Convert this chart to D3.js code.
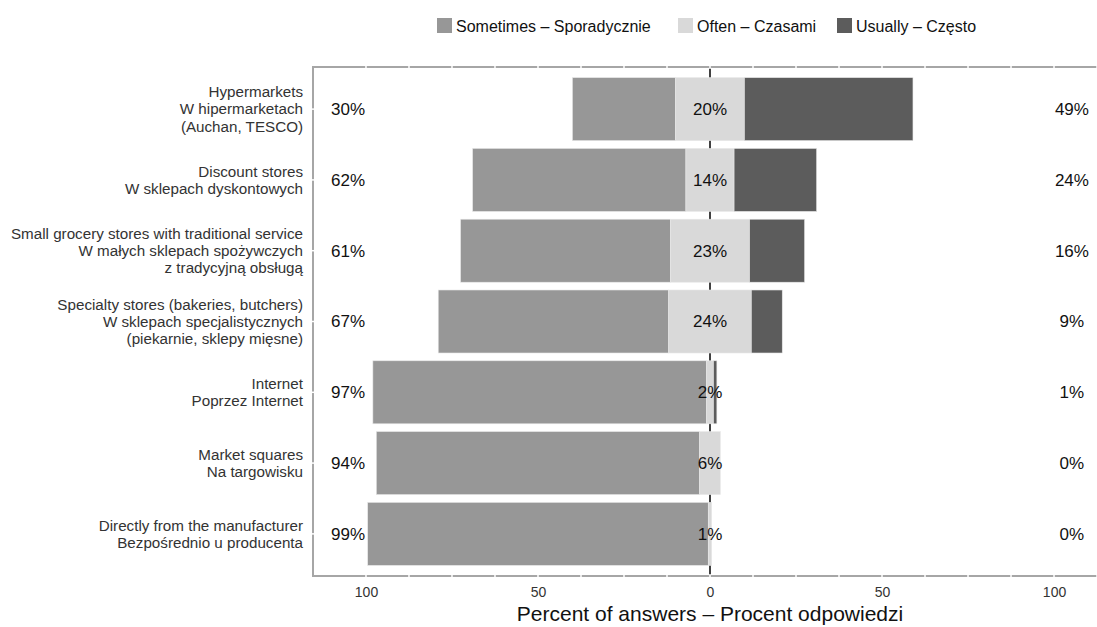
<!DOCTYPE html>
<html>
<head>
<meta charset="utf-8">
<script src="https://cdn.jsdelivr.net/npm/d3@7"></script>
<style>
  body { margin: 0; background: #fff; }
  svg { font-family: "Liberation Sans", Arial, sans-serif; }
</style>
</head>
<body>
<div class="canvas"></div>
<script>
// categories, each label split into lines
const categories = [
  ['Hypermarkets', 'W hipermarketach', '(Auchan, TESCO)'],
  ['Discount stores', 'W sklepach dyskontowych'],
  ['Small grocery stores with traditional service', 'W małych sklepach spożywczych', 'z tradycyjną obsługą'],
  ['Specialty stores (bakeries, butchers)', 'W sklepach specjalistycznych', '(piekarnie, sklepy mięsne)'],
  ['Internet', 'Poprzez Internet'],
  ['Market squares', 'Na targowisku'],
  ['Directly from the manufacturer', 'Bezpośrednio u producenta']
]
const sometimes = [30, 62, 61, 67, 97, 94, 99]
const often = [20, 14, 23, 24, 2, 6, 1]
const usually = [49, 24, 16, 9, 1, 0, 0]
const seriesNames = ['Sometimes – Sporadycznie', 'Often – Czasami', 'Usually – Często']
const xTicks = [-100, -50, 0, 50, 100]
const colors = ['#979797', '#d9d9d9', '#5c5c5c']

const width = 1097
const height = 627
const margin = { top: 67, left: 313, bottom: 51 }

const svg = d3.select('.canvas')
  .append('svg')
  .attr('width', width)
  .attr('height', height)

// scales
const x = d3.scaleLinear().domain([-115.4, 115.4]).range([margin.left, margin.left + 794])
const y = d3.scaleBand()
  .domain(categories.map((d, i) => i))
  .range([margin.top, height - margin.bottom])
  .paddingInner(0.11)
  .paddingOuter(0.15)

const plotBottom = height - margin.bottom

// zero line (behind bars)
svg.append('line')
  .attr('x1', x(0)).attr('x2', x(0))
  .attr('y1', margin.top).attr('y2', plotBottom)
  .attr('stroke', '#111').attr('stroke-width', 1.6)

// build segments for each row, "often" is centred on zero
const rows = categories.map((c, i) => {
  const half = often[i] / 2
  return [
    { key: 0, i, x0: -half - sometimes[i], x1: -half },
    { key: 1, i, x0: -half, x1: half },
    { key: 2, i, x0: half, x1: half + usually[i] }
  ]
}).flat().filter(d => d.x1 > d.x0)

svg.append('g').selectAll('rect')
  .data(rows)
  .enter()
  .append('rect')
  .attr('x', d => x(d.x0))
  .attr('width', d => x(d.x1) - x(d.x0))
  .attr('y', d => y(d.i))
  .attr('height', y.bandwidth())
  .attr('fill', d => colors[d.key])
  .attr('stroke', '#e8e8e8')
  .attr('stroke-width', 0.6)

// frame: left, top, bottom in grey with white breaks
const frame = svg.append('g').attr('stroke', '#a6a6a6').attr('stroke-width', 2).attr('fill', 'none')
frame.append('path').attr('d', `M${width},${margin.top}H${margin.left}V${plotBottom}H${width}`)

const gaps = svg.append('g').attr('stroke', '#fff').attr('stroke-width', 1.5)
d3.range(-100, 125, 12.5).forEach(v => {
  gaps.append('line').attr('x1', x(v)).attr('x2', x(v)).attr('y1', margin.top - 2).attr('y2', margin.top + 2)
  gaps.append('line').attr('x1', x(v)).attr('x2', x(v)).attr('y1', plotBottom - 2).attr('y2', plotBottom + 2)
})
categories.forEach((c, i) => {
  const cy = y(i) + y.bandwidth() / 2
  gaps.append('line').attr('x1', margin.left - 2).attr('x2', margin.left + 2).attr('y1', cy).attr('y2', cy)
})

// x axis
const xAxis = d3.axisBottom(x).tickValues(xTicks).tickFormat(d => Math.abs(d)).tickSize(0).tickPadding(11)
const xAxisGroup = svg.append('g')
  .attr('transform', `translate(0, ${plotBottom})`)
  .call(xAxis)
xAxisGroup.select('.domain').remove()
xAxisGroup.selectAll('text')
  .attr('font-size', 14)
  .attr('fill', '#333')
  .attr('font-family', '"Liberation Sans", Arial, sans-serif')

svg.append('text')
  .attr('x', x(0))
  .attr('y', 621)
  .attr('text-anchor', 'middle')
  .attr('font-size', 21)
  .attr('fill', '#111')
  .text('Percent of answers – Procent odpowiedzi')

// category labels
const catGroup = svg.append('g')
categories.forEach((lines, i) => {
  const cy = y(i) + y.bandwidth() / 2
  const lh = 17.3
  const t = catGroup.append('text')
    .attr('text-anchor', 'end')
    .attr('font-size', 15.2)
    .attr('fill', '#333')
  lines.forEach((line, j) => {
    t.append('tspan')
      .attr('x', margin.left - 10)
      .attr('y', cy + (j - (lines.length - 1) / 2) * lh)
      .attr('dy', '0.35em')
      .text(line)
  })
})

// percent labels
const pct = svg.append('g').attr('font-size', 17).attr('fill', '#111').attr('text-anchor', 'middle')
categories.forEach((c, i) => {
  const cy = y(i) + y.bandwidth() / 2
  pct.append('text').attr('x', x(-105.2)).attr('y', cy).attr('dy', '0.35em').text(sometimes[i] + '%')
  pct.append('text').attr('x', x(0)).attr('y', cy).attr('dy', '0.35em').text(often[i] + '%')
  pct.append('text').attr('x', x(105.2)).attr('y', cy).attr('dy', '0.35em').text(usually[i] + '%')
})

// legend
const legendX = [437, 678, 837]
const legend = svg.append('g')
seriesNames.forEach((name, i) => {
  legend.append('rect')
    .attr('x', legendX[i]).attr('y', 18)
    .attr('width', 15).attr('height', 15)
    .attr('fill', colors[i])
  legend.append('text')
    .attr('x', legendX[i] + 19).attr('y', 26)
    .attr('dy', '0.35em')
    .attr('font-size', 16)
    .attr('fill', '#111')
    .text(name)
})
</script>
</body>
</html>
